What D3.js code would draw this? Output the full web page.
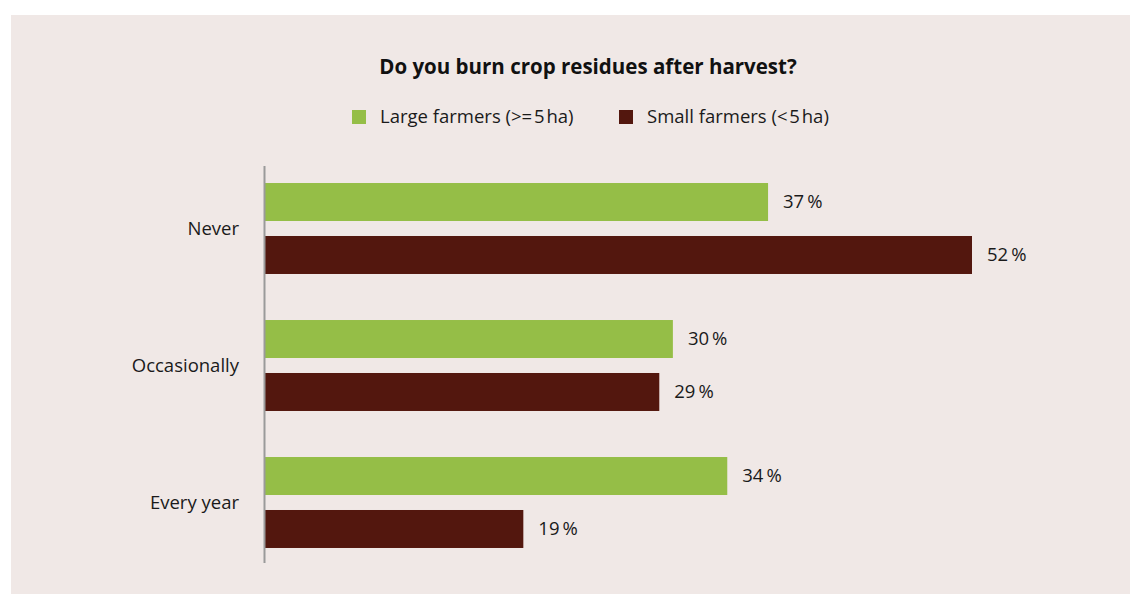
<!DOCTYPE html>
<html>
<head>
<meta charset="utf-8">
<script src="https://cdn.jsdelivr.net/npm/d3@7/dist/d3.min.js"></script>
<style>
  html, body { margin: 0; padding: 0; background: #ffffff; }
  svg { display: block; font-family: "Open Sans", "Noto Sans", sans-serif; }
</style>
</head>
<body>
<svg id="chart" width="1130" height="594"></svg>
<script>
// Survey answers: "Do you burn crop residues after harvest?"
const categories = ["Never", "Occasionally", "Every year"];
const seriesNames = ["Large farmers (>=\u200A5\u200Aha)", "Small farmers (<\u200A5\u200Aha)"];
const largeFarmers = [37, 30, 34];
const smallFarmers = [52, 29, 19];
const seriesColors = ["#95be47", "#53170e"];

const svg = d3.select("#chart");
const W = 1130, H = 594;

// panel background
svg.append("rect")
  .attr("x", 11).attr("y", 15)
  .attr("width", W - 11).attr("height", H - 15)
  .attr("fill", "#f0e8e6");

// title
svg.append("text")
  .attr("x", 588).attr("y", 74)
  .attr("text-anchor", "middle")
  .attr("font-size", 20.5)
  .attr("font-weight", 700)
  .attr("fill", "#111")
  .text("Do you burn crop residues after harvest?");

// legend
const legendX = [352, 619];
seriesNames.forEach((name, i) => {
  const g = svg.append("g").attr("transform", `translate(${legendX[i]},110)`);
  g.append("rect").attr("width", 14).attr("height", 14).attr("fill", seriesColors[i]);
  g.append("text")
    .attr("x", 28).attr("y", 7).attr("dy", "0.35em")
    .attr("font-size", 18.5).attr("fill", "#1a1a1a")
    .text(name);
});

// scales
const x = d3.scaleLinear().domain([0, 52]).range([265, 972]);
const y = d3.scaleBand().domain(categories).range([160, 571])
  .paddingInner(0.336).paddingOuter(0.168);
const ySeries = d3.scaleBand().domain([0, 1]).range([0, y.bandwidth()])
  .paddingInner(0.283).paddingOuter(0);

const rows = categories.map((c, i) => ({
  category: c,
  values: [largeFarmers[i], smallFarmers[i]]
}));

const groups = svg.selectAll("g.cat")
  .data(rows)
  .join("g")
  .attr("class", "cat")
  .attr("transform", d => `translate(0,${y(d.category)})`);

groups.selectAll("rect")
  .data(d => d.values.map((v, s) => ({ v, s })))
  .join("rect")
  .attr("x", x(0))
  .attr("y", d => ySeries(d.s))
  .attr("width", d => x(d.v) - x(0))
  .attr("height", ySeries.bandwidth())
  .attr("fill", d => seriesColors[d.s]);

groups.selectAll("text.val")
  .data(d => d.values.map((v, s) => ({ v, s })))
  .join("text")
  .attr("class", "val")
  .attr("x", d => x(d.v) + 15)
  .attr("y", d => ySeries(d.s) + ySeries.bandwidth() / 2)
  .attr("dy", "0.35em")
  .attr("font-size", 18.5)
  .attr("fill", "#1a1a1a")
  .text(d => d.v + "\u2009%");

// category labels
groups.append("text")
  .attr("x", 239)
  .attr("y", y.bandwidth() / 2)
  .attr("dy", "0.35em")
  .attr("text-anchor", "end")
  .attr("font-size", 18.5)
  .attr("fill", "#1a1a1a")
  .text(d => d.category);

// vertical axis line
svg.append("line")
  .attr("x1", 264.5).attr("x2", 264.5)
  .attr("y1", 166).attr("y2", 563)
  .attr("stroke", "#9a9a9a")
  .attr("stroke-width", 2);
</script>
</body>
</html>
